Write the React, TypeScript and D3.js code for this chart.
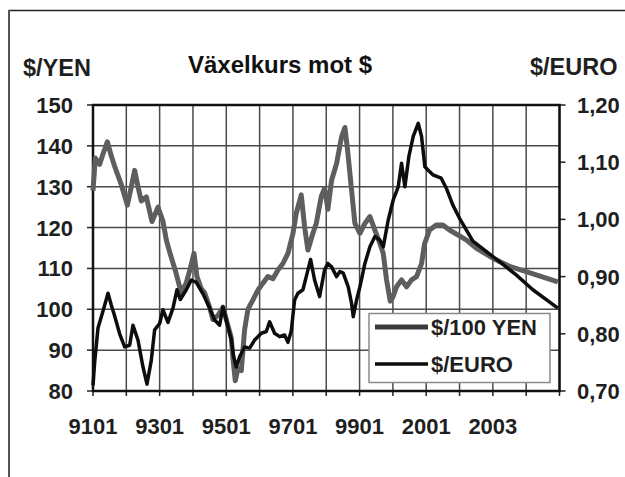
import React from "react";
import * as d3 from "d3";

const W = 625;
const H = 477;

const yearTicks = [1991, 1992, 1993, 1994, 1995, 1996, 1997, 1998, 1999, 2000, 2001, 2002, 2003, 2004, 2005];
const xLabels = ["9101", "9301", "9501", "9701", "9901", "2001", "2003"];
const xLabelYears = [1991, 1993, 1995, 1997, 1999, 2001, 2003];
const leftTicks = [80, 90, 100, 110, 120, 130, 140, 150];
const rightTicks = [0.7, 0.8, 0.9, 1.0, 1.1, 1.2];

const yenT = [
  1991.0, 1991.07, 1991.2, 1991.3, 1991.43, 1991.55, 1991.65, 1991.85, 1992.03, 1992.15, 1992.25, 1992.35,
  1992.45, 1992.6, 1992.77, 1992.95, 1993.1, 1993.2, 1993.3, 1993.47, 1993.65, 1993.8, 1993.92, 1994.03,
  1994.12, 1994.25, 1994.35, 1994.5, 1994.6, 1994.75, 1994.9, 1995.05, 1995.15, 1995.2, 1995.27, 1995.35,
  1995.45, 1995.55, 1995.65, 1995.8, 1995.95, 1996.1, 1996.25, 1996.4, 1996.55, 1996.7, 1996.85, 1997.0,
  1997.1, 1997.25, 1997.35, 1997.45, 1997.6, 1997.7, 1997.85, 1997.95, 1998.05, 1998.16, 1998.31, 1998.46,
  1998.56, 1998.64, 1998.76, 1998.86, 1999.01, 1999.16, 1999.31, 1999.46, 1999.61, 1999.71, 1999.81, 1999.92,
  2000.0, 2000.11, 2000.26, 2000.41, 2000.56, 2000.71, 2000.86, 2000.95, 2001.1, 2001.3, 2001.5, 2001.7,
  2002.2, 2002.5, 2003.0, 2003.5, 2004.0, 2004.95,
];
const yenV = [
  129, 137, 135.5, 138, 141, 137.5, 135, 130.5, 125.5, 130, 134, 130,
  126.5, 127.5, 121.5, 125, 121.5, 117, 114, 109.5, 104, 106.5, 110, 113.7,
  108, 105, 104, 100.5, 97.5, 98.5, 100.5, 96, 93, 88, 82.5, 85.5,
  85, 95, 100, 102.3, 104.7, 106.4, 108, 107.5, 109.6, 111.2, 113.7, 118.5,
  123.5, 128, 120.2, 114.5, 118.6, 121, 127.6, 129.6, 124.5, 131.6, 135.7, 142.2,
  144.5, 139, 129.2, 121, 118.6, 121, 122.7, 119.4, 116.1, 113.7, 107.2, 102,
  103, 105.5, 107.2, 105.5, 107.2, 108, 111.2, 116, 119.4, 120.6, 120.6, 119.4,
  117, 115, 112.5, 110.5, 109.2, 106.7,
];

const euroT = [
  1991.0, 1991.05, 1991.15, 1991.25, 1991.35, 1991.45, 1991.55, 1991.63, 1991.8, 1991.95, 1992.1, 1992.2,
  1992.35, 1992.5, 1992.62, 1992.75, 1992.85, 1993.0, 1993.1, 1993.25, 1993.4, 1993.52, 1993.62, 1993.8,
  1993.95, 1994.1, 1994.3, 1994.5, 1994.65, 1994.8, 1994.9, 1995.05, 1995.15, 1995.22, 1995.3, 1995.4,
  1995.55, 1995.7, 1995.85, 1996.05, 1996.2, 1996.3, 1996.45, 1996.6, 1996.75, 1996.85, 1996.95, 1997.05,
  1997.15, 1997.3, 1997.4, 1997.53, 1997.65, 1997.8, 1997.95, 1998.05, 1998.16, 1998.31, 1998.41, 1998.51,
  1998.66, 1998.76, 1998.81, 1998.91, 1999.01, 1999.16, 1999.31, 1999.46, 1999.61, 1999.71, 1999.86, 2000.01,
  2000.16, 2000.26, 2000.36, 2000.48, 2000.61, 2000.76, 2000.86, 2000.96, 2001.06, 2001.2, 2001.45, 2001.6,
  2001.8, 2002.0, 2002.4, 2002.8, 2003.2, 2003.7, 2004.2, 2004.95,
];
const euroV = [
  0.71, 0.75, 0.81, 0.83, 0.85, 0.871, 0.85, 0.835, 0.8, 0.777, 0.78, 0.815,
  0.789, 0.742, 0.712, 0.754, 0.807, 0.818, 0.842, 0.82, 0.845, 0.877, 0.86, 0.877,
  0.894, 0.89, 0.87, 0.845, 0.824, 0.815, 0.847, 0.812, 0.79, 0.76, 0.742, 0.76,
  0.777, 0.775, 0.789, 0.801, 0.804, 0.821, 0.801, 0.795, 0.798, 0.785, 0.805, 0.859,
  0.871, 0.877, 0.9, 0.93, 0.894, 0.865, 0.912, 0.923, 0.917, 0.9, 0.909, 0.906,
  0.882, 0.853, 0.83, 0.859, 0.882, 0.923, 0.952, 0.97, 0.964, 0.952, 0.999, 1.034,
  1.057, 1.098, 1.057, 1.11, 1.145, 1.168, 1.145, 1.092, 1.086, 1.078, 1.072, 1.055,
  1.025, 1.002, 0.962, 0.944, 0.926, 0.903, 0.877, 0.845,
];

const FONT = "'Liberation Sans', Arial, Helvetica, sans-serif";
const TXT = "#1f1f1f";
const GRAY = "#5e5e5e";

export default function App() {
  const left = 93, right = 559.5, top = 105, bottom = 391;
  const x = d3.scaleLinear().domain([1991, 2005]).range([left, right]);
  const yL = d3.scaleLinear().domain([80, 150]).range([bottom, top]);
  const yR = d3.scaleLinear().domain([0.7, 1.2]).range([bottom, top]);

  const yenData = yenT.map((t, i) => [t, yenV[i]] as [number, number]);
  const euroData = euroT.map((t, i) => [t, euroV[i]] as [number, number]);
  const yenLine = d3.line<[number, number]>().x((d) => x(d[0])).y((d) => yL(d[1]));
  const euroLine = d3.line<[number, number]>().x((d) => x(d[0])).y((d) => yR(d[1]));

  const fs = 22;
  const tp = { fontFamily: FONT, fontSize: fs, fontWeight: "bold" as const, fill: TXT };

  return (
    <div style={{ position: "absolute", left: 0, top: 0 }}>
      <svg width={W} height={H} style={{ display: "block", background: "#fff" }}>
        {/* outer frame */}
        <line x1={8.5} x2={W} y1={10.5} y2={10.5} stroke="#222" strokeWidth={1.5} />
        <line x1={9} x2={9} y1={10} y2={H} stroke="#555" strokeWidth={2} />

        {/* titles */}
        <text x={280} y={73} textAnchor="middle" {...tp} fontSize={24} fill="#111">
          Växelkurs mot $
        </text>
        <text x={23} y={76} {...tp} fontSize={23.5}>$/YEN</text>
        <text x={530} y={75} {...tp} fontSize={23.5}>$/EURO</text>

        {/* grid */}
        {leftTicks.map((v) => (
          <line key={"h" + v} x1={left} x2={right} y1={yL(v)} y2={yL(v)} stroke="#4a4a4a" strokeWidth={1.5} />
        ))}
        {yearTicks.map((t) => (
          <line key={"v" + t} x1={x(t)} x2={x(t)} y1={top} y2={bottom} stroke="#4a4a4a" strokeWidth={1.5} />
        ))}

        {/* ticks */}
        {leftTicks.map((v) => (
          <line key={"lt" + v} x1={left - 6} x2={left} y1={yL(v)} y2={yL(v)} stroke="#222" strokeWidth={1.5} />
        ))}
        {rightTicks.map((v) => (
          <line key={"rt" + v} x1={right} x2={right + 6} y1={yR(v)} y2={yR(v)} stroke="#222" strokeWidth={1.5} />
        ))}
        {yearTicks.map((t) => (
          <line key={"bt" + t} x1={x(t)} x2={x(t)} y1={bottom} y2={bottom + 5} stroke="#222" strokeWidth={1.5} />
        ))}

        {/* plot border */}
        <rect x={left} y={top} width={right - left} height={bottom - top} fill="none" stroke="#111" strokeWidth={2.5} />

        {/* tick labels */}
        {leftTicks.map((v) => (
          <text key={"ll" + v} x={73} y={yL(v) + 8} textAnchor="end" {...tp}>
            {v}
          </text>
        ))}
        {rightTicks.map((v) => (
          <text key={"rl" + v} x={577} y={yR(v) + 8} {...tp}>
            {v.toFixed(2).replace(".", ",")}
          </text>
        ))}
        {xLabels.map((s, i) => (
          <text key={"xl" + s} x={x(xLabelYears[i])} y={434} textAnchor="middle" {...tp}>
            {s}
          </text>
        ))}

        {/* series */}
        <path d={yenLine(yenData) || ""} fill="none" stroke={GRAY} strokeWidth={5} strokeLinejoin="round" />
        <path d={euroLine(euroData) || ""} fill="none" stroke="#0d0d0d" strokeWidth={3.5} strokeLinejoin="round" />

        {/* legend */}
        <rect x={369} y={313.5} width={181} height={69} fill="#fff" stroke="#8a8a8a" strokeWidth={1.5} />
        <line x1={375} x2={428} y1={327} y2={327} stroke="#3a3a3a" strokeWidth={5} />
        <text x={431} y={335} {...tp}>$/100 YEN</text>
        <line x1={375} x2={428} y1={364} y2={364} stroke="#0d0d0d" strokeWidth={3.5} />
        <text x={431} y={372} {...tp}>$/EURO</text>
      </svg>
    </div>
  );
}
